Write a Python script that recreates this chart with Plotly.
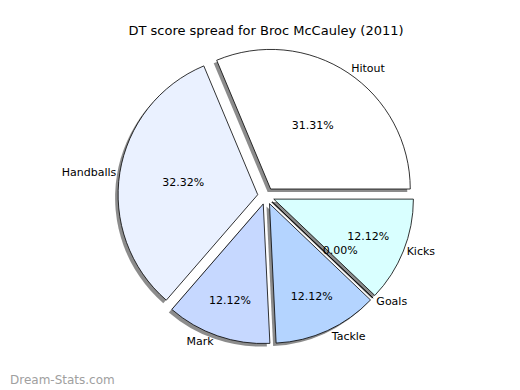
import plotly.graph_objects as go

title_text = "DT score spread for Broc McCauley (2011)"
categories = ["Hitout", "Handballs", "Mark", "Tackle", "Goals", "Kicks"]
values = [31.31, 32.32, 12.12, 12.12, 0.0, 12.12]
colors = ["#FFFFFF", "#EAF1FF", "#C6D8FF", "#B4D4FF", "#C0E0FF", "#D9FFFF"]
watermark = "Dream-Stats.com"

W, H = 512, 382           # page adds an 8px body margin
cx, cy = 258, 188          # pie centre in figure pixels
r_total = 148
pull = [0.06] * len(values)
total = sum(values)
start_rot = 90 - 360 * values[0] / total   # first slice starts at 3 o'clock, counter-clockwise


def dom(dx=0, dy=0, r=r_total):
    xc = (cx + dx) / W
    yc = (H - cy - dy) / H
    return dict(x=[xc - r / W, xc + r / W], y=[yc - r / H, yc + r / H])


common = dict(labels=categories, values=values, sort=False, direction="counterclockwise",
              rotation=start_rot, pull=pull, showlegend=False, hoverinfo="skip")
font = dict(family="DejaVu Sans", size=11, color="black")

fig = go.Figure()
# shadow
fig.add_trace(go.Pie(**common, domain=dom(-3, 3), textinfo="none",
                     marker=dict(colors=["rgba(0,0,0,0.45)"] * len(values), line=dict(width=0))))
# wedges with percentages inside
fig.add_trace(go.Pie(**common, domain=dom(), texttemplate="%{percent:.2%}", textposition="inside",
                     insidetextorientation="horizontal", textfont=font,
                     marker=dict(colors=colors, line=dict(color="black", width=0.8))))
# percentage of the empty (zero) slice, shown at ~0.6 radius like the original
zero_tpl = ["%{percent:.2%}" if v == 0 else "" for v in values]
fig.add_trace(go.Pie(**common, domain=dom(r=r_total * 0.5), texttemplate=zero_tpl,
                     textposition="outside", textfont=font,
                     marker=dict(colors=["rgba(0,0,0,0)"] * len(values), line=dict(width=0))))
# category labels outside
fig.add_trace(go.Pie(**common, domain=dom(), texttemplate="%{label}", textposition="outside",
                     textfont=font,
                     marker=dict(colors=["rgba(0,0,0,0)"] * len(values), line=dict(width=0))))

fig.update_layout(
    width=W, height=H, margin=dict(l=0, r=0, t=0, b=0),
    paper_bgcolor="white", plot_bgcolor="white",
    title=dict(text=title_text, x=(266 - 8) / W, xanchor="center", xref="paper",
               y=1 - (30 - 8) / H, yanchor="middle", yref="container",
               font=dict(family="DejaVu Sans", size=13, color="black")),
    annotations=[dict(text=watermark, x=0, y=(H - 372) / H, xref="paper", yref="paper",
                      xanchor="left", yanchor="middle", showarrow=False,
                      font=dict(family="DejaVu Sans", size=12, color="#A0A0A0"))],
)
fig.write_html("out.html")
